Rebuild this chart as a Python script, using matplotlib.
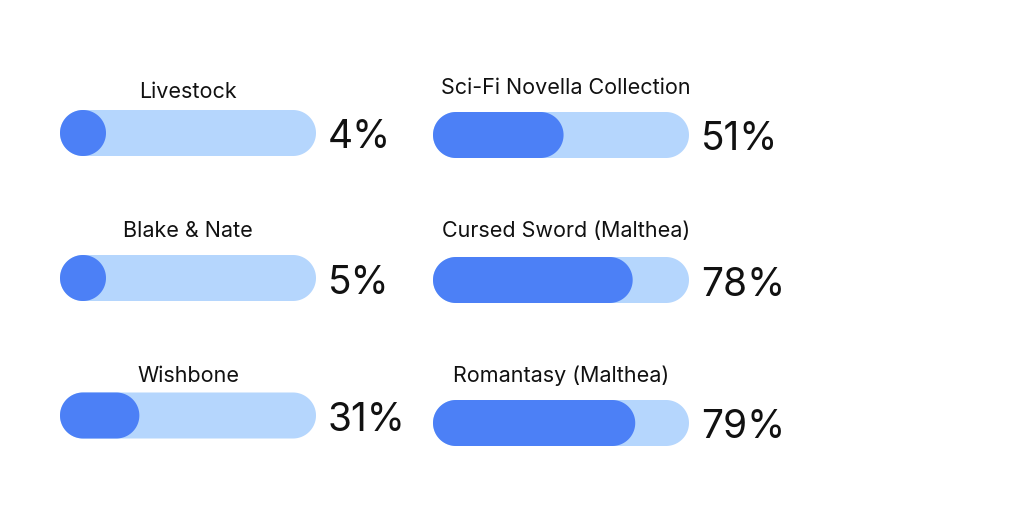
import numpy as np
import matplotlib.pyplot as plt
from matplotlib.patches import Polygon

plt.rcParams["font.family"] = ["Inter", "DejaVu Sans"]

# data
left_labels = ["Livestock", "Blake & Nate", "Wishbone"]
left_values = [4, 5, 31]
right_labels = ["Sci-Fi Novella Collection", "Cursed Sword (Malthea)", "Romantasy (Malthea)"]
right_values = [51, 78, 79]

# layout (pixels, y going down)
bar_w, bar_h = 256, 46
cols = [
    # bar x, bar centre y, label baseline y, label centre x
    (60, [133, 278, 415.5], [98, 237, 382], [188, 188, 188], left_labels, left_values),
    (433, [135, 280, 423], [94, 237, 382], [566, 566, 561], right_labels, right_values),
]
fill_col = "#4C80F6"
back_col = "#B5D6FD"
text_col = "#111111"

fig = plt.figure(figsize=(10.24, 5.12), dpi=100)
ax = fig.add_axes([0, 0, 1, 1])
ax.set_xlim(0, 1024)
ax.set_ylim(512, 0)
ax.axis("off")


def pill(x, yc, w, h, color):
    r = h / 2
    t = np.linspace(-np.pi / 2, np.pi / 2, 60)
    right = np.c_[x + w - r + r * np.cos(t), yc + r * np.sin(t)]
    left = np.c_[x + r - r * np.cos(t), yc - r * np.sin(t)]
    ax.add_patch(Polygon(np.vstack([right, left]), closed=True, fc=color, ec="none"))


for x0, ys, lys, lxs, labels, values in cols:
    for yc, ly, lx, lab, val in zip(ys, lys, lxs, labels, values):
        pill(x0, yc, bar_w, bar_h, back_col)
        pill(x0, yc, max(val / 100 * bar_w, bar_h), bar_h, fill_col)
        ax.text(lx, ly, lab, ha="center", va="baseline",
                fontsize=15.5, color=text_col)
        ax.text(x0 + bar_w + 12, yc + 15.5, f"{val}%", ha="left", va="baseline",
                fontsize=28, color=text_col)

fig.savefig("out.png", dpi=100, facecolor="white")
